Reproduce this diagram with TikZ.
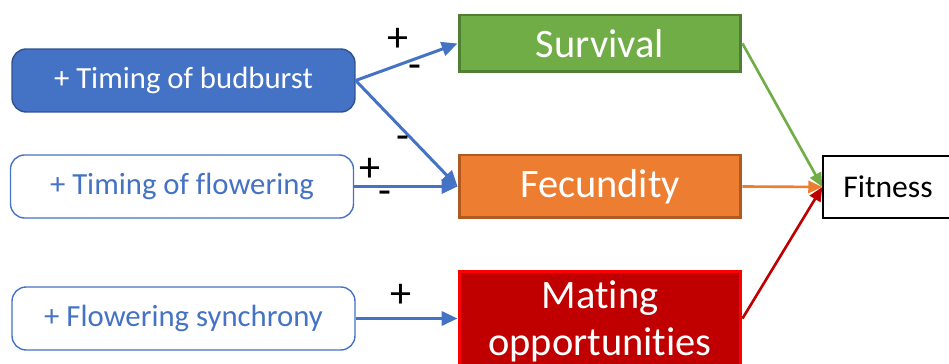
\documentclass[tikz,border=0pt]{standalone}
\usepackage{fontspec}
\setmainfont{Carlito}[Ligatures=CommonOff]
\usetikzlibrary{arrows.meta}
\usetikzlibrary{positioning}
\definecolor{accblue}{HTML}{4472C4}
\definecolor{accblueD}{HTML}{2F528F}
\definecolor{accgreen}{HTML}{70AD47}
\definecolor{accgreenD}{HTML}{507E32}
\definecolor{accorange}{HTML}{ED7D31}
\definecolor{accorangeD}{HTML}{AE5A21}
\definecolor{accred}{HTML}{C00000}
\tikzset{
  trait/.style={draw=accblue, line width=0.8pt, rounded corners=8pt, minimum width=6.86cm, minimum height=1.26cm, inner sep=0pt, font=\fontsize{17.5}{20}\selectfont, text=accblue},
  comp/.style={line width=1.7pt, minimum width=5.64cm, inner sep=0pt, text=white, font=\fontsize{23}{27}\selectfont},
  effect/.style={-{Triangle[length=9pt,width=8pt]}, line width=1.7pt, draw=accblue},
  toFit/.style={-{Triangle[length=8pt,width=7pt]}, line width=1.5pt},
  sign/.style={font=\fontsize{24}{24}\selectfont}
}
\begin{document}
\begin{tikzpicture}[x=0.02cm, y=-0.02cm]
        \useasboundingbox (0,0) rectangle (949,364);
        \clip (0,0) rectangle (949,364);

        % traits
        \node [trait, fill=accblue, draw=accblueD, text=white] (budburst) at (183.5,80.5) {\raisebox{-2pt}{+ Timing of budburst}};
        \node [trait] (flowering) at (182,186.5) {\raisebox{-2pt}{+ Timing of flowering}};
        \node [trait] (synchrony) at (183.5,318.5) {\raisebox{-2pt}{+ Flowering synchrony}};

        % fitness components
        \node [comp, fill=accgreen, draw=accgreenD, minimum height=1.14cm] (survival) at (600,43.5) {Survival};
        \node [comp, fill=accorange, draw=accorangeD, minimum height=1.26cm] (fecundity) at (600,186.5) {Fecundity};
        \node [comp, fill=accred, draw=red, minimum height=2.02cm, align=center] (mating) at (600,321.5) {Mating\\opportunities};

        \node [draw, line width=0.8pt, minimum width=2.6cm, minimum height=1.24cm, inner sep=0pt, font=\fontsize{18}{20}\selectfont] (fitness) at (888,187) {Fitness};

        % trait effects
        \draw [effect] (budburst.east) -- (survival.west);
        \draw [effect] (budburst.east) -- (fecundity.west);
        \draw [effect] (flowering.east) -- (fecundity.west);
        \draw [effect] (synchrony.east) -- (mating.west |- synchrony.east);

        \node [sign] (sgnA) at (398,40) {+};
        \node [sign] (sgnB) at (415,72) {-};
        \node [sign] (sgnC) at (403,143) {-};
        \node [sign] (sgnD) at (370,170) {+};
        \node [sign] (sgnE) at (385,198) {-};
        \node [sign] (sgnF) at (401,296) {+};

        % components to fitness
        \draw [toFit, draw=accgreen] (survival.east) -- (fitness.west);
        \draw [toFit, draw=accorange] (fecundity.east) -- (fitness.west);
        \draw [toFit, draw=accred] (mating.east |- synchrony.east) -- (fitness.west);
    \end{tikzpicture}
\end{document}
